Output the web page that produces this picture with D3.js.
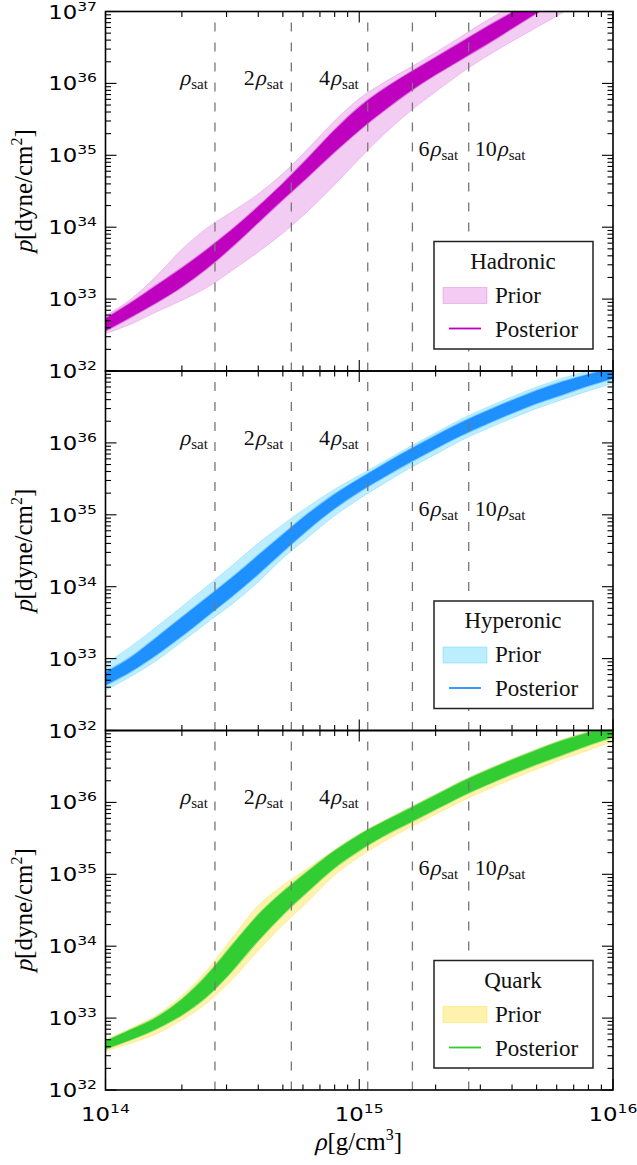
<!DOCTYPE html>
<html><head><meta charset="utf-8">
<script src="https://cdn.jsdelivr.net/npm/d3@7"></script>
<style>body{margin:0;background:#fff}svg{display:block}</style>
</head><body>
<script>
// ---- data (log10 values) ----
const logRho = [14.0,14.1,14.2,14.3,14.4,14.5,14.6,14.7,14.8,14.9,15.0,15.1,15.2,15.3,15.4,15.5,15.6,15.7,15.8,15.9,16.0];

const hadPostHi  = [32.73,32.95,33.19,33.43,33.69,33.97,34.28,34.61,34.97,35.34,35.67,35.93,36.15,36.36,36.57,36.78,36.98,37.18,37.38,37.58,37.77];
const hadPostLo  = [32.56,32.75,32.95,33.17,33.43,33.73,34.06,34.39,34.71,35.04,35.35,35.63,35.89,36.12,36.33,36.54,36.76,36.98,37.18,37.38,37.57];
const hadPriorHi = [32.77,33.00,33.32,33.69,33.99,34.22,34.46,34.75,35.10,35.47,35.79,36.02,36.22,36.43,36.65,36.87,37.08,37.28,37.48,37.68,37.87];
const hadPriorLo = [32.52,32.65,32.82,32.98,33.16,33.40,33.65,33.92,34.23,34.58,34.95,35.30,35.61,35.88,36.14,36.37,36.58,36.78,36.98,37.17,37.36];

const hypPostHi  = [32.81,33.02,33.29,33.57,33.85,34.13,34.43,34.73,35.02,35.28,35.50,35.71,35.91,36.10,36.28,36.44,36.59,36.73,36.85,36.95,37.04];
const hypPostLo  = [32.63,32.82,33.05,33.31,33.59,33.87,34.17,34.49,34.80,35.08,35.32,35.53,35.73,35.92,36.10,36.26,36.41,36.55,36.67,36.79,36.90];
const hypPriorHi = [32.93,33.17,33.44,33.72,34.01,34.30,34.60,34.87,35.12,35.35,35.55,35.75,35.95,36.14,36.33,36.49,36.64,36.78,36.90,37.00,37.09];
const hypPriorLo = [32.56,32.75,32.97,33.23,33.50,33.76,34.06,34.40,34.69,34.98,35.22,35.44,35.65,35.84,36.03,36.19,36.34,36.48,36.60,36.72,36.83];

const qrkPostHi  = [32.68,32.84,33.01,33.26,33.60,34.02,34.43,34.76,35.05,35.32,35.55,35.74,35.92,36.10,36.28,36.44,36.59,36.73,36.86,36.97,37.07];
const qrkPostLo  = [32.57,32.70,32.85,33.04,33.30,33.66,34.07,34.44,34.77,35.08,35.33,35.54,35.72,35.90,36.08,36.24,36.39,36.53,36.66,36.79,36.91];
const qrkPriorHi = [32.70,32.86,33.04,33.31,33.67,34.12,34.56,34.85,35.09,35.33,35.56,35.75,35.93,36.11,36.29,36.45,36.60,36.74,36.87,36.98,37.08];
const qrkPriorLo = [32.54,32.65,32.78,32.97,33.21,33.54,33.93,34.30,34.63,34.98,35.24,35.46,35.65,35.83,36.01,36.17,36.32,36.46,36.60,36.72,36.85];

const panelNames = ["Hadronic","Hyperonic","Quark"];
const legendLabels = ["Prior","Posterior"];
const postColors = ["#bf00bf","#1e90ff","#32cd32"];
const priorColors = ["#bf00bf","#00bfff","#ffd700"];
const priorAlpha = [0.2,0.26,0.32];

const rhoSat = 2.7e14;
const satMultiples = [1,2,4,6,10];
const satLabels = ["","2","4","6","10"];
const yMajorExp = [32,33,34,35,36,37];
const xMajorExp = [14,15,16];

const panelData = [
  {prior:[hadPriorLo,hadPriorHi], post:[hadPostLo,hadPostHi]},
  {prior:[hypPriorLo,hypPriorHi], post:[hypPostLo,hypPostHi]},
  {prior:[qrkPriorLo,qrkPriorHi], post:[qrkPostLo,qrkPostHi]}
];

// ---- layout ----
const W=637,H=1165;
const X0=105.5, X1=613;
const tops=[11.5,371,730.5], PH=359.5;
const SERIF = "Liberation Serif";
const SANS = "DejaVu Sans";

const svg = d3.select("body").append("svg").attr("width",W).attr("height",H);
const x = d3.scaleLog().domain([1e14,1e16]).range([X0,X1]);

// rich text: sequence of parts laid out horizontally; italic parts are slanted upright serif glyphs
function rich(parent, px, py, anchor, parts, extraTransform){
  const outer = parent.append("g").attr("transform",`translate(${px},${py})` + (extraTransform||""));
  const g = outer.append("g");
  let cx=0;
  parts.forEach(p=>{
    const t = g.append("text").attr("font-family",SERIF).attr("font-size",p.size)
      .attr("fill",p.fill||"#111").text(p.t);
    const w = t.node().getComputedTextLength();
    t.attr("transform",`translate(${cx},${p.dy||0})` + (p.italic?" skewX(-14)":""));
    cx += w + (p.italic?1:0);
  });
  const off = anchor==="end" ? -cx : anchor==="middle" ? -cx/2 : 0;
  g.attr("transform",`translate(${off},0)`);
  return outer;
}

function powLabel(g, exp, px, py, anchor){
  const gg = g.append("g").attr("transform",`translate(${px},${py}) scale(1.2,1)`);
  const t = gg.append("text").attr("font-family",SANS).attr("text-anchor",anchor)
    .attr("font-size",19).attr("fill","#000");
  t.append("tspan").text("10");
  t.append("tspan").attr("font-size",13).attr("dy",-8).text(exp);
}

function satText(g, mult, px, py, anchor){
  const parts = [];
  if(mult) parts.push({t:mult,size:22});
  parts.push({t:"ρ",size:22,italic:true});
  parts.push({t:"sat",size:15,dy:4});
  rich(g, px, py, anchor, parts);
}

panelData.forEach((pd,i)=>{
  const top=tops[i], bot=top+PH;
  const y = d3.scaleLog().domain([1e32,1e37]).range([bot,top]);
  const g = svg.append("g");
  const cid = "clip"+i;
  svg.append("clipPath").attr("id",cid).append("rect")
    .attr("x",X0).attr("y",top).attr("width",X1-X0).attr("height",PH);

  const rows = (lo,hi)=>logRho.map((L,k)=>({r:Math.pow(10,L), lo:Math.pow(10,lo[k]), hi:Math.pow(10,hi[k])}));
  const area = d3.area().x(d=>x(d.r)).y0(d=>y(d.lo)).y1(d=>y(d.hi)).curve(d3.curveMonotoneX);

  const bands = g.append("g").attr("clip-path",`url(#${cid})`);
  bands.append("path").datum(rows(pd.prior[0],pd.prior[1])).attr("d",area)
    .attr("fill",priorColors[i]).attr("fill-opacity",priorAlpha[i])
    .attr("stroke",priorColors[i]).attr("stroke-opacity",priorAlpha[i]*0.8).attr("stroke-width",1);
  bands.append("path").datum(rows(pd.post[0],pd.post[1])).attr("d",area)
    .attr("fill",postColors[i])
    .attr("stroke",postColors[i]).attr("stroke-opacity",0.4).attr("stroke-width",2);

  // dashed lines
  satMultiples.forEach(m=>{
    g.append("line").attr("x1",x(m*rhoSat)).attr("x2",x(m*rhoSat)).attr("y1",top).attr("y2",bot)
      .attr("stroke","#777").attr("stroke-width",1.3).attr("stroke-dasharray","9,11").attr("stroke-dashoffset",9);
  });
  // sat labels
  const yA = y(1e36)+2, yB = y(1e35)+1;
  satText(g, satLabels[0], x(rhoSat)-7, yA, "end");
  satText(g, satLabels[1], x(2*rhoSat)-8, yA, "end");
  satText(g, satLabels[2], x(4*rhoSat)-9, yA, "end");
  satText(g, satLabels[3], x(6*rhoSat)+6, yB, "start");
  satText(g, satLabels[4], x(10*rhoSat)+6, yB, "start");

  // ticks
  const tk = g.append("g").attr("stroke","#000").attr("stroke-width",1.1);
  const xMinor=[], yMinor=[];
  for(let n=14;n<16;n++) for(let k=2;k<10;k++) xMinor.push(k*Math.pow(10,n));
  for(let n=32;n<37;n++) for(let k=2;k<10;k++) yMinor.push(k*Math.pow(10,n));
  const xMaj = xMajorExp.map(e=>Math.pow(10,e)), yMaj = yMajorExp.map(e=>Math.pow(10,e));
  xMaj.forEach(v=>{ const px=x(v);
    tk.append("line").attr("x1",px).attr("x2",px).attr("y1",top).attr("y2",top+11);
    tk.append("line").attr("x1",px).attr("x2",px).attr("y1",bot).attr("y2",bot-11); });
  xMinor.forEach(v=>{ const px=x(v);
    tk.append("line").attr("x1",px).attr("x2",px).attr("y1",top).attr("y2",top+5.5);
    tk.append("line").attr("x1",px).attr("x2",px).attr("y1",bot).attr("y2",bot-5.5); });
  yMaj.forEach(v=>{ const py=y(v);
    tk.append("line").attr("x1",X0).attr("x2",X0+11).attr("y1",py).attr("y2",py);
    tk.append("line").attr("x1",X1).attr("x2",X1-11).attr("y1",py).attr("y2",py); });
  yMinor.forEach(v=>{ const py=y(v);
    tk.append("line").attr("x1",X0).attr("x2",X0+5.5).attr("y1",py).attr("y2",py);
    tk.append("line").attr("x1",X1).attr("x2",X1-5.5).attr("y1",py).attr("y2",py); });

  // spines
  g.append("rect").attr("x",X0).attr("y",top).attr("width",X1-X0).attr("height",PH)
    .attr("fill","none").attr("stroke","#000").attr("stroke-width",1.6);

  // y tick labels
  yMajorExp.forEach(e=>{
    if(i>0 && e===37) return;
    powLabel(g, e, 97, y(Math.pow(10,e))+7, "end");
  });

  // y axis label (rotated)
  rich(g, 32, top+PH/2, "middle", [
    {t:"p",size:25,italic:true,fill:"#000"},
    {t:"[dyne/cm",size:25,fill:"#000"},
    {t:"2",size:16,dy:-10,fill:"#000"},
    {t:"]",size:25,fill:"#000"}
  ], " rotate(-90)");

  // legend
  const lg = g.append("g").attr("transform",`translate(434,${top+230})`);
  lg.append("rect").attr("x",0).attr("y",0).attr("width",159).attr("height",107.5)
    .attr("fill","#fff").attr("stroke","#222").attr("stroke-width",1.5);
  lg.append("text").attr("font-family",SERIF).attr("x",79).attr("y",27).attr("text-anchor","middle")
    .attr("font-size",23).attr("fill","#111").text(panelNames[i]);
  lg.append("rect").attr("x",9).attr("y",46).attr("width",44).attr("height",16)
    .attr("fill",priorColors[i]).attr("fill-opacity",priorAlpha[i])
    .attr("stroke",priorColors[i]).attr("stroke-opacity",priorAlpha[i]).attr("stroke-width",1);
  lg.append("text").attr("font-family",SERIF).attr("x",61).attr("y",61).attr("font-size",23)
    .attr("fill","#111").text(legendLabels[0]);
  lg.append("line").attr("x1",15).attr("x2",47).attr("y1",87).attr("y2",87)
    .attr("stroke",postColors[i]).attr("stroke-width",1.8);
  lg.append("text").attr("font-family",SERIF).attr("x",61).attr("y",95).attr("font-size",23)
    .attr("fill","#111").text(legendLabels[1]);
});

// x tick labels
xMajorExp.forEach(e=> powLabel(svg, e, x(Math.pow(10,e)), 1121, "middle"));

// x axis label
rich(svg, 358, 1150, "middle", [
  {t:"ρ",size:25,italic:true,fill:"#000"},
  {t:"[g/cm",size:25,fill:"#000"},
  {t:"3",size:16,dy:-10,fill:"#000"},
  {t:"]",size:25,fill:"#000"}
]);
</script>
</body></html>
